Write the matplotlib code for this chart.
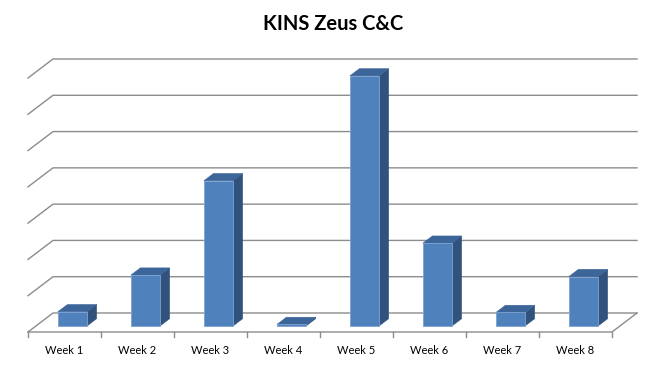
import matplotlib
matplotlib.use('Agg')
import matplotlib.pyplot as plt
from matplotlib.patches import Polygon

# data (gridlines every 10, axis 0..70)
weeks = ['Week 1', 'Week 2', 'Week 3', 'Week 4', 'Week 5', 'Week 6', 'Week 7', 'Week 8']
hits = [3.9, 14.0, 40.0, 0.4, 68.9, 22.8, 3.7, 13.6]
grid_vals = [0, 10, 20, 30, 40, 50, 60, 70]

# oblique "3d" look: depth offset in data units
px_x = 73.0        # pixels per category
px_y = 3.6286      # pixels per value unit
dep_x = 25 / px_x
dep_y = 19 / px_y
bar_w = 0.40
bar_d0, bar_d1 = 0.32, 0.70

front_c = '#4F81BD'
side_c = '#31527D'
top_c = '#3C659A'
grid_c = '#8C8C8C'

fig = plt.figure(figsize=(6.65, 3.67), dpi=100)
ax = fig.add_axes([0, 0, 1, 1])
ax.set_xlim(-28 / px_x, (665 - 28) / px_x)
ax.set_ylim((332 - 367) / px_y, 332 / px_y)
ax.axis('off')

n = len(weeks)

# back wall gridlines with left wall diagonal
for v in grid_vals:
    ax.plot([0, dep_x, n + dep_x], [v, v + dep_y, v + dep_y], color=grid_c, lw=1, zorder=1)

# floor front edge + right edge
ax.plot([0, n, n + dep_x], [0, 0, dep_y], color=grid_c, lw=1, zorder=1)

# category ticks
for i in range(n + 1):
    ax.plot([i, i], [0, -5 / px_y], color=grid_c, lw=1, zorder=1)

for i, (lab, v) in enumerate(zip(weeks, hits)):
    x0 = i + 0.5 - bar_w / 2 + bar_d0 * dep_x
    x1 = x0 + bar_w
    y0 = bar_d0 * dep_y
    y1 = y0 + v
    ddx = (bar_d1 - bar_d0) * dep_x
    ddy = (bar_d1 - bar_d0) * dep_y
    front = Polygon([(x0, y0), (x1, y0), (x1, y1), (x0, y1)], closed=True,
                    facecolor=front_c, edgecolor='#7DA2D2', lw=0.6, zorder=3)
    side = Polygon([(x1, y0), (x1 + ddx, y0 + ddy), (x1 + ddx, y1 + ddy), (x1, y1)], closed=True,
                   facecolor=side_c, edgecolor=side_c, lw=0.4, zorder=3)
    top = Polygon([(x0, y1), (x1, y1), (x1 + ddx, y1 + ddy), (x0 + ddx, y1 + ddy)], closed=True,
                  facecolor=top_c, edgecolor=top_c, lw=0.4, zorder=3)
    ax.add_patch(side)
    ax.add_patch(top)
    ax.add_patch(front)
    ax.text(i + 0.5, -19 / px_y, lab, ha='center', va='center', fontsize=8,
            family='Lato', color='black')

ax.text((333 - 28) / px_x, (332 - 24) / px_y, 'KINS Zeus C&C', ha='center', va='center',
        fontsize=14.5, fontweight='bold', family='Lato', color='black')

fig.savefig('out.png', dpi=100)
